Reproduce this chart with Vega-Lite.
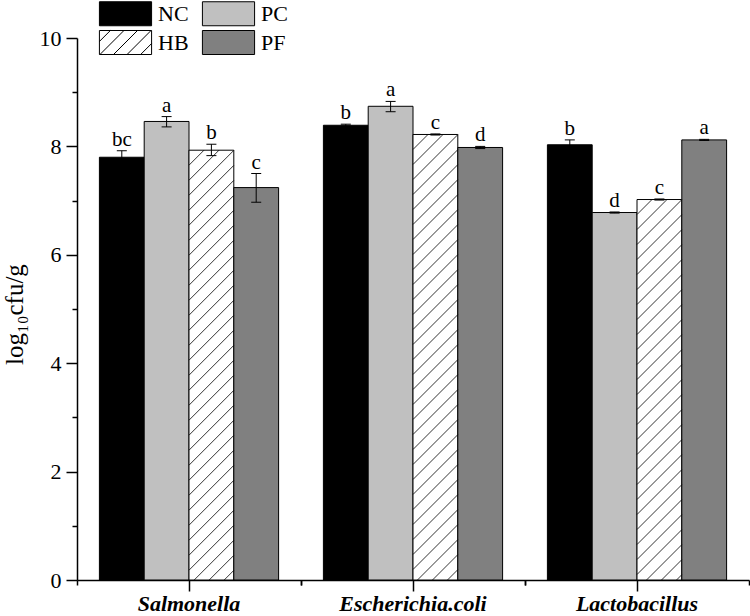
{
  "$schema": "https://vega.github.io/schema/vega-lite/v6.json",
  "width": 672,
  "height": 542,
  "autosize": {"type": "none"},
  "padding": {"left": 77, "top": 38, "right": 1, "bottom": 36},
  "config": {
    "view": {"stroke": null},
    "font": "Liberation Serif",
    "axis": {"grid": false, "domainColor": "black", "tickColor": "black", "labelColor": "black", "titleColor": "black", "domainWidth": 1.5, "tickWidth": 1.5}
  },
  "data": {
    "values": [
      {"bacteria": "Salmonella", "group": "NC", "mean": 7.80, "lo": 7.68, "hi": 7.92, "letter": "bc"},
      {"bacteria": "Salmonella", "group": "PC", "mean": 8.46, "lo": 8.36, "hi": 8.55, "letter": "a"},
      {"bacteria": "Salmonella", "group": "HB", "mean": 7.93, "lo": 7.83, "hi": 8.04, "letter": "b"},
      {"bacteria": "Salmonella", "group": "PF", "mean": 7.24, "lo": 6.97, "hi": 7.50, "letter": "c"},
      {"bacteria": "Escherichia.coli", "group": "NC", "mean": 8.39, "lo": 8.37, "hi": 8.41, "letter": "b"},
      {"bacteria": "Escherichia.coli", "group": "PC", "mean": 8.74, "lo": 8.64, "hi": 8.83, "letter": "a"},
      {"bacteria": "Escherichia.coli", "group": "HB", "mean": 8.22, "lo": 8.21, "hi": 8.23, "letter": "c"},
      {"bacteria": "Escherichia.coli", "group": "PF", "mean": 7.98, "lo": 7.96, "hi": 8.00, "letter": "d"},
      {"bacteria": "Lactobacillus", "group": "NC", "mean": 8.03, "lo": 7.94, "hi": 8.12, "letter": "b"},
      {"bacteria": "Lactobacillus", "group": "PC", "mean": 6.78, "lo": 6.77, "hi": 6.79, "letter": "d"},
      {"bacteria": "Lactobacillus", "group": "HB", "mean": 7.02, "lo": 7.01, "hi": 7.03, "letter": "c"},
      {"bacteria": "Lactobacillus", "group": "PF", "mean": 8.12, "lo": 8.11, "hi": 8.13, "letter": "a"}
    ]
  },
  "layer": [
    {
      "mark": {"type": "bar", "stroke": "black", "strokeWidth": 1},
      "encoding": {
        "x": {"field": "bacteria", "type": "nominal", "sort": ["Salmonella", "Escherichia.coli", "Lactobacillus"],
          "scale": {"paddingInner": 0.2, "paddingOuter": 0.1},
          "axis": {"title": null, "labelAngle": 0, "labelFont": "Liberation Serif", "labelFontSize": 22, "labelFontStyle": "italic", "labelFontWeight": "bold", "tickSize": 11, "labelPadding": 2, "orient": "bottom"}},
        "xOffset": {"field": "group", "type": "nominal", "scale": {"domain": ["NC", "PC", "HB", "PF"], "paddingInner": 0, "paddingOuter": 0}},
        "y": {"field": "mean", "type": "quantitative", "scale": {"domain": [0, 10]},
          "axis": {"title": "log₁₀cfu/g", "titleFontSize": 25, "titleFontWeight": "normal", "titleFont": "Liberation Serif", "titlePadding": 12, "titleY": 276, "values": [0, 2, 4, 6, 8, 10], "tickSize": 11, "labelFontSize": 22, "labelPadding": 5, "orient": "left"}},
        "fill": {"field": "group", "type": "nominal", "scale": {"domain": ["NC", "PC", "HB", "PF"], "range": ["#000000", "#c0c0c0", "#ffffff", "#808080"]},
          "legend": {"title": null, "orient": "none", "legendX": 36, "legendY": -37, "direction": "horizontal", "columns": 2,
            "symbolSize": 576, "labelFontSize": 22, "labelFont": "Liberation Serif", "labelColor": "black", "labelOffset": 20,
            "columnPadding": 11, "rowPadding": 0, "symbolStrokeColor": "black", "symbolStrokeWidth": 1, "symbolOpacity": 1,
            "encode": {"symbols": {"update": {
              "shape": {"signal": "datum.value === 'HB' ? 'M-2.174,-1H2.174V1H-2.174ZM-2.174,-0.086L-1.26,-1M-2.13,1L-0.13,-1M-1,1L1,-1M0.13,1L2.13,-1M1.26,1L2.174,0.086' : 'M-2.174,-1H2.174V1H-2.174Z'"},
              "stroke": {"value": "black"}, "strokeWidth": {"value": 1}}}}}}
      }
    },
    {
      "transform": [{"filter": "datum.group === 'HB'"}],
      "mark": {"type": "point", "shape": "M-22.4,15L-7.4,0M-22.4,30L7.6,0M-22.4,45L22.4,0.2M-22.4,60L22.4,15.2M-22.4,75L22.4,30.2M-22.4,90L22.4,45.2M-22.4,105L22.4,60.2M-22.4,120L22.4,75.2M-22.4,135L22.4,90.2M-22.4,150L22.4,105.2M-22.4,165L22.4,120.2M-22.4,180L22.4,135.2M-22.4,195L22.4,150.2M-22.4,210L22.4,165.2M-22.4,225L22.4,180.2M-22.4,240L22.4,195.2M-22.4,255L22.4,210.2M-22.4,270L22.4,225.2M-22.4,285L22.4,240.2M-22.4,300L22.4,255.2M-22.4,315L22.4,270.2M-22.4,330L22.4,285.2M-22.4,345L22.4,300.2M-22.4,360L22.4,315.2M-22.4,375L22.4,330.2M-22.4,390L22.4,345.2M-22.4,405L22.4,360.2M-22.4,420L22.4,375.2M-22.4,435L22.4,390.2M-22.4,450L22.4,405.2M-17.4,460L22.4,420.2M-2.4,460L22.4,435.2M12.6,460L22.4,450.2",
        "size": 4, "filled": false, "stroke": "black", "strokeWidth": 0.8, "opacity": 1, "clip": true},
      "encoding": {
        "x": {"field": "bacteria", "type": "nominal", "sort": ["Salmonella", "Escherichia.coli", "Lactobacillus"],
          "axis": {"title": null, "labels": false, "domain": false, "tickOffset": 112, "tickSize": 5, "orient": "bottom"}},
        "xOffset": {"field": "group", "type": "nominal"},
        "y": {"field": "mean", "type": "quantitative",
          "axis": {"title": null, "labels": false, "domain": false, "values": [1, 3, 5, 7, 9], "tickSize": 5, "orient": "left"}}
      }
    },
    {
      "mark": {"type": "rule", "stroke": "black", "strokeWidth": 1},
      "encoding": {
        "x": {"field": "bacteria", "type": "nominal", "sort": ["Salmonella", "Escherichia.coli", "Lactobacillus"],
          "axis": {"title": null, "labels": false, "domain": false, "tickOffset": -112, "tickSize": 5, "orient": "bottom"}},
        "xOffset": {"field": "group", "type": "nominal"},
        "y": {"field": "lo", "type": "quantitative", "axis": null},
        "y2": {"field": "hi"}
      }
    },
    {
      "mark": {"type": "tick", "color": "black", "size": 10, "thickness": 1, "opacity": 1},
      "encoding": {
        "x": {"field": "bacteria", "type": "nominal", "sort": ["Salmonella", "Escherichia.coli", "Lactobacillus"], "axis": null},
        "xOffset": {"field": "group", "type": "nominal"},
        "y": {"field": "lo", "type": "quantitative", "axis": null}
      }
    },
    {
      "mark": {"type": "tick", "color": "black", "size": 10, "thickness": 1, "opacity": 1},
      "encoding": {
        "x": {"field": "bacteria", "type": "nominal", "sort": ["Salmonella", "Escherichia.coli", "Lactobacillus"], "axis": null},
        "xOffset": {"field": "group", "type": "nominal"},
        "y": {"field": "hi", "type": "quantitative", "axis": null}
      }
    },
    {
      "mark": {"type": "text", "font": "Liberation Serif", "fontSize": 21, "baseline": "alphabetic", "dy": -5, "color": "black"},
      "encoding": {
        "x": {"field": "bacteria", "type": "nominal", "sort": ["Salmonella", "Escherichia.coli", "Lactobacillus"], "axis": null},
        "xOffset": {"field": "group", "type": "nominal"},
        "y": {"field": "hi", "type": "quantitative", "axis": null},
        "text": {"field": "letter"}
      }
    }
  ],
  "resolve": {"axis": {"x": "independent", "y": "independent"}}
}
